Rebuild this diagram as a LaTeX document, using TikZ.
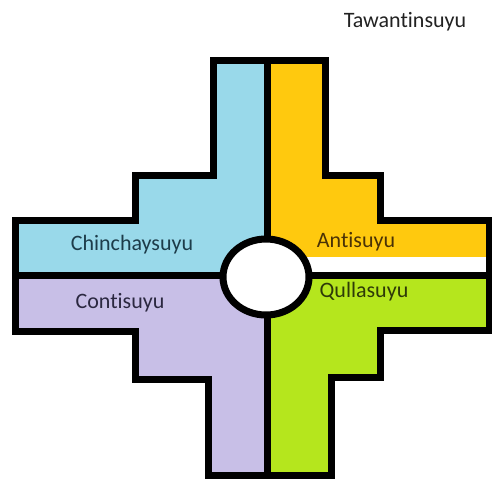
\documentclass[tikz,border=0pt]{standalone}
\usepackage{fontspec}
\setmainfont{Carlito}[Ligatures=NoCommon]

\definecolor{chinchay}{RGB}{153,217,234}
\definecolor{anti}{RGB}{255,201,14}
\definecolor{conti}{RGB}{200,191,231}
\definecolor{qulla}{RGB}{181,230,29}

\def\suyuborder{(213.5,60) -- (325.5,60) -- (325.5,175) -- (380,175) -- (380,220)
	-- (489,220) -- (489,330) -- (380,330) -- (380,377) -- (331,377) -- (331,475)
	-- (208,475) -- (208,379) -- (135,379) -- (135,331) -- (15,331) -- (15,220)
	-- (135,220) -- (135,175) -- (213.5,175) -- cycle}

\begin{document}
\begin{tikzpicture}[x=0.5pt, y=-0.5pt, line width=3.5pt,
	suyu/.style = {font=\fontsize{11}{13}\selectfont}]

	\useasboundingbox (0,0) rectangle (492,478);
	\fill[white] (0,0) rectangle (492,478);

	\begin{scope}
		\clip \suyuborder;
		\fill[chinchay] (0,0) rectangle (267,275);
		\fill[anti] (267,0) rectangle (492,275);
		\fill[conti] (0,275) rectangle (267,478);
		\fill[qulla] (267,275) rectangle (492,478);
		\fill[white] (300,257) rectangle (492,272);
	\end{scope}

	\draw \suyuborder;
	\draw (267,60) -- (267,475);
	\draw (15,275) -- (489,275);
	\draw[fill=white] (266,277) ellipse [x radius=43, y radius=38];

	\node[suyu, text={rgb,255:red,29;green,60;blue,74}] (chinchaysuyu) at (132,245) {Chinchaysuyu};
	\node[suyu, text={rgb,255:red,74;green,50;blue,6}] (antisuyu) at (356,242) {Antisuyu};
	\node[suyu, text={rgb,255:red,43;green,40;blue,64}] (contisuyu) at (120,303) {Contisuyu};
	\node[suyu, text={rgb,255:red,46;green,58;blue,8}] (qullasuyu) at (364,292) {Qullasuyu};
	\node[suyu, text={rgb,255:red,34;green,34;blue,34}] (tawantinsuyu) at (405,22) {Tawantinsuyu};

\end{tikzpicture}
\end{document}
